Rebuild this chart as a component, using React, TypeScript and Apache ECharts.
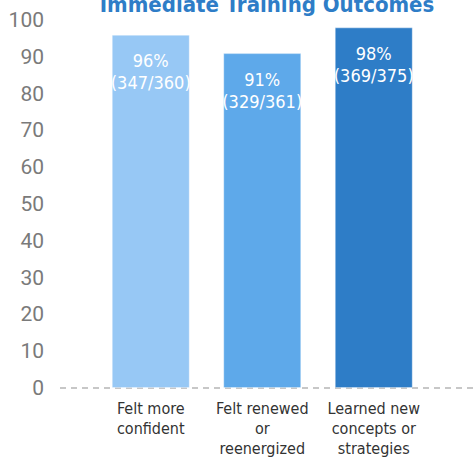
import React, { useEffect, useRef } from "react";
import * as echarts from "echarts";

const categories = ["Felt more\nconfident", "Felt renewed\nor\nreenergized", "Learned new\nconcepts or\nstrategies"];
const values = [96, 91, 98];
const counts = ["347/360", "329/361", "369/375"];
const barColors = ["#97c8f5", "#5ea9ea", "#2e7dc7"];
const yTicks = { min: 0, max: 100, interval: 10 };
const title = "Immediate Training Outcomes";

const condensed = "'DejaVu Sans Condensed', 'DejaVu Sans', sans-serif";

export default function App() {
  const ref = useRef<HTMLDivElement>(null);
  useEffect(() => {
    if (!ref.current) return;
    const chart = echarts.init(ref.current, undefined, { renderer: "svg" });
    chart.setOption({
      animation: false,
      title: {
        text: title,
        left: 262,
        textAlign: "center",
        top: -12,
        textStyle: { fontFamily: condensed, fontSize: 22, fontWeight: "bold", color: "#2e7dc7" },
      },
      grid: { left: 95, right: 44.5, top: 20, bottom: 72 },
      xAxis: {
        type: "category",
        data: categories,
        axisLine: { show: false },
        axisTick: { show: false },
        axisLabel: {
          interval: 0,
          color: "#333",
          fontFamily: condensed,
          fontSize: 16,
          lineHeight: 20,
          margin: 10,
        },
      },
      yAxis: {
        type: "value",
        min: yTicks.min,
        max: yTicks.max,
        interval: yTicks.interval,
        axisLine: { show: false },
        axisTick: { show: false },
        splitLine: { show: false },
        axisLabel: {
          color: "#7a7a7a",
          fontFamily: "Roboto, 'Liberation Sans', sans-serif",
          fontSize: 21,
          margin: 51,
        },
      },
      graphic: [
        {
          type: "line",
          shape: { x1: 60, y1: 388, x2: 474, y2: 388 },
          style: { stroke: "#b5b5b5", lineWidth: 1.5, lineDash: [6, 5] },
          z: 0,
        },
      ],
      series: [
        {
          type: "bar",
          barWidth: 78,
          z: 2,
          data: values.map((v, i) => ({
            value: v,
            itemStyle: { color: barColors[i], borderColor: "rgba(255,255,255,0.35)", borderWidth: 1 },
          })),
          label: {
            show: true,
            position: "insideTop",
            distance: 15,
            color: "#fff",
            fontFamily: condensed,
            fontSize: 18,
            lineHeight: 22,
            formatter: (p: any) => `${p.value}%\n(${counts[p.dataIndex]})`,
          },
        },
      ],
    });
    return () => chart.dispose();
  }, []);
  return <div ref={ref} style={{ width: 474, height: 460, position: "absolute", left: 0, top: 0 }} />;
}
